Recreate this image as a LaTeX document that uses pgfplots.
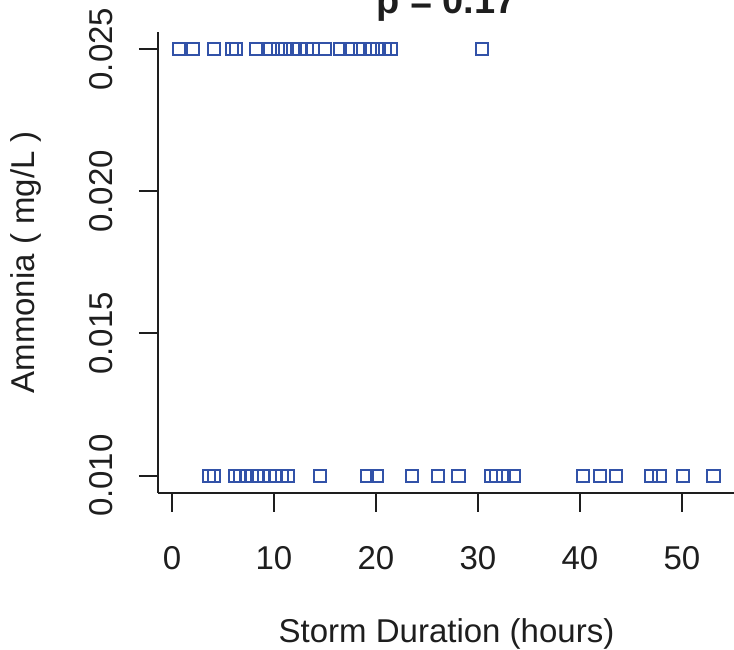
\documentclass[border=0pt]{standalone}
\usepackage{fontspec}
\setmainfont{Liberation Sans}
\usepackage{pgfplots}
\pgfplotsset{compat=1.18}
\definecolor{ptblue}{RGB}{50,82,168}
\definecolor{axgray}{RGB}{30,30,30}
\pgfplotstableread{
x y
0.72 0.025
2.03 0.025
4.09 0.025
5.85 0.025
6.27 0.025
8.24 0.025
9.6 0.025
10.4 0.025
11.1 0.025
11.9 0.025
12.5 0.025
13.2 0.025
13.8 0.025
15.0 0.025
16.5 0.025
17.5 0.025
18.4 0.025
19.4 0.025
20.1 0.025
20.9 0.025
21.5 0.025
30.4 0.025
3.66 0.010
4.1 0.010
6.2 0.010
6.7 0.010
7.3 0.010
7.8 0.010
8.3 0.010
9.0 0.010
9.6 0.010
10.1 0.010
10.75 0.010
11.4 0.010
14.5 0.010
19.1 0.010
20.1 0.010
23.5 0.010
26.1 0.010
28.1 0.010
31.3 0.010
31.8 0.010
32.5 0.010
33.5 0.010
40.3 0.010
42.0 0.010
43.5 0.010
47.0 0.010
47.8 0.010
50.1 0.010
53.1 0.010
}\ammonia
\begin{document}
\begin{tikzpicture}
\begin{axis}[
  at={(0,0)}, anchor=south west, scale only axis,
  width=288.5pt, height=230.35pt,
  xmin=-1.37, xmax=55.2, ymin=0.0094, ymax=0.0256,
  axis x line*=bottom, axis y line*=left,
  x axis line style={-, line width=1pt, draw=axgray},
  y axis line style={-, line width=1pt, draw=axgray},
  tick align=outside, major tick length=9.5pt,
  tick style={line width=1pt, draw=axgray},
  xtick={0,10,20,30,40,50},
  ytick={0.010,0.015,0.020,0.025},
  scaled y ticks=false,
  /pgf/number format/assume math mode=true,
  tick label style={font=\fontsize{16.5}{16.5}\selectfont, text=axgray},
  xticklabel style={anchor=north, inner sep=0pt},
  yticklabel style={/pgf/number format/.cd, fixed, fixed zerofill, precision=3, /tikz/.cd, rotate=90, anchor=south, inner sep=0pt},
  xticklabel shift=17pt,
  yticklabel shift=13pt,
  title={p = 0.17},
  title style={at={(axis description cs:0.5,1)}, anchor=base, yshift=3.5pt, inner sep=0pt, font=\bfseries\fontsize{19}{19}\selectfont, text=axgray},
  xlabel={Storm Duration (hours)},
  xlabel style={at={(axis description cs:0.5,0)}, anchor=base, yshift=-75pt, inner sep=0pt, font=\fontsize{16.5}{16.5}\selectfont, text=axgray},
  ylabel={Ammonia ( mg/L )},
  ylabel style={at={([xshift=-61.5pt]axis description cs:0,0.5)}, anchor=base, inner sep=0pt, font=\fontsize{16.5}{16.5}\selectfont, text=axgray},
  clip=false,
]
\addplot[only marks, mark=square, mark size=3.05pt, mark options={draw=ptblue, line width=1pt, fill=none}] table[x=x, y=y] {\ammonia};
\end{axis}
\pgfresetboundingbox
\useasboundingbox (-79pt,-78.15pt) rectangle (288pt,246.35pt);
\end{tikzpicture}
\end{document}
